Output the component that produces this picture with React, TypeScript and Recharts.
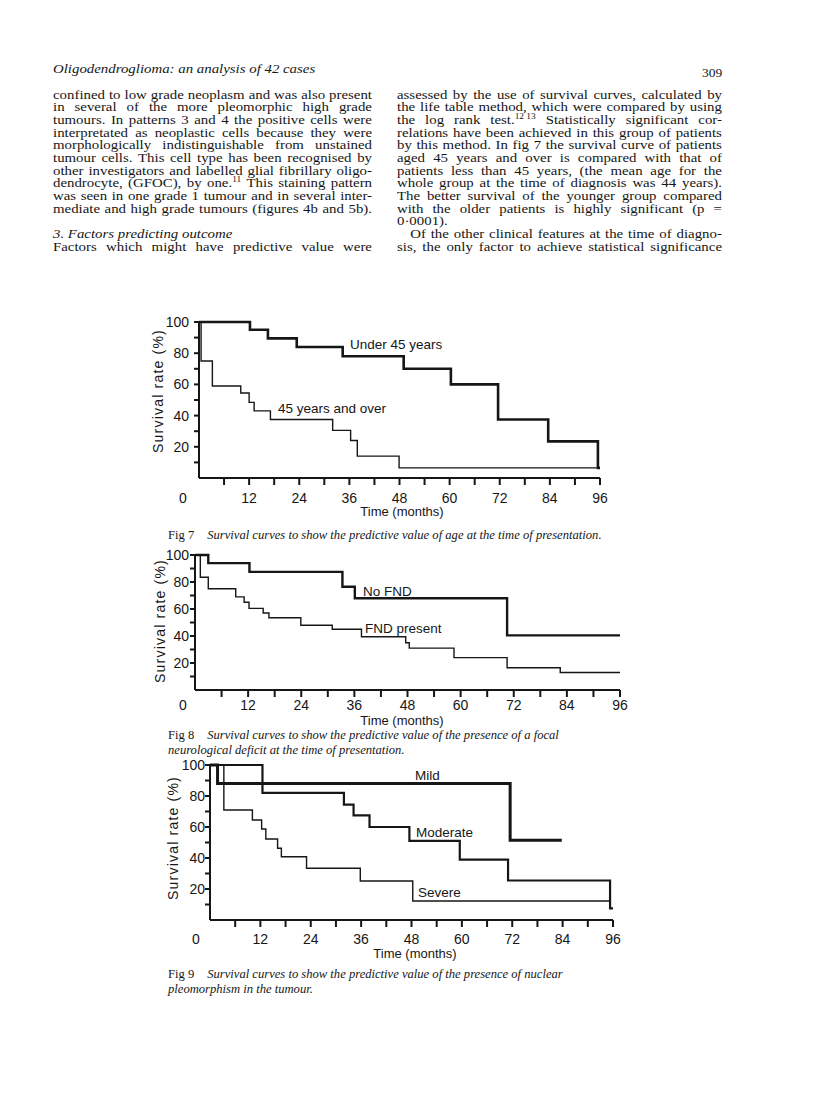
import React from "react";
import { LineChart, Line, XAxis, YAxis } from "recharts";

const ink = "#161616";
const chartFont = "'Liberation Sans', Arial, sans-serif";
const textFont = "'Liberation Serif', 'Times New Roman', serif";

// shared axis ticks
const monthTicks = [0, 6, 12, 18, 24, 30, 36, 42, 48, 54, 60, 66, 72, 78, 84, 90, 96];
const rateTicks = [10, 20, 30, 40, 50, 60, 70, 80, 90, 100];

// Fig 7 - age at presentation
const under45Months = [0, 12.2, 16.5, 23.4, 34.4, 49, 60.3, 71.6, 83.6, 95.5, 96];
const under45Rate = [100, 95, 89.5, 84, 78, 70, 60, 37.5, 23.5, 6.5, 6.5];
const over45Months = [0, 0.5, 3.2, 10, 12, 13.2, 17.1, 32, 36.3, 37.9, 47.9, 96];
const over45Rate = [100, 75, 59, 54.5, 48.5, 43, 37.5, 30.5, 24, 14, 6.5, 6.5];

// Fig 8 - focal neurological deficit
const noFndMonths = [0, 3, 12.3, 33.3, 36.1, 70.5, 96];
const noFndRate = [100, 94, 87.5, 76.5, 68, 40.5, 40.5];
const fndMonths = [0, 1.2, 3, 9.2, 11.1, 12.2, 15.4, 16.7, 23.9, 31, 37.6, 47.6, 48.4, 58.5, 70.5, 82.5, 96];
const fndRate = [100, 83.5, 75, 69, 65, 60.5, 57, 53.5, 48, 45, 39.5, 35, 31, 24, 16.5, 13, 13];

// Fig 9 - nuclear pleomorphism
const mildMonths = [0, 1.8, 71.5, 83.8];
const mildRate = [100, 88, 51.5, 51.5];
const moderateMonths = [0, 12.5, 31.9, 34.2, 38, 47.5, 59.5, 71, 95.3, 96];
const moderateRate = [100, 82, 74.5, 67.5, 60, 51, 39, 25.5, 7.5, 7.5];
const severeMonths = [0, 3.3, 10.1, 12.3, 13.3, 16.1, 17, 23, 35.8, 48.3, 95.5];
const severeRate = [100, 71, 64.5, 58.7, 52.3, 46.3, 40.8, 33.4, 25.2, 12.3, 12.3];

const toSeries = (months: number[], rate: number[]) => months.map((m, i) => ({ m, r: rate[i] }));

// body text, one entry per printed line
const leftLines = [
  "confined to low grade neoplasm and was also present",
  "in several of the more pleomorphic high grade",
  "tumours. In patterns 3 and 4 the positive cells were",
  "interpretated as neoplastic cells because they were",
  "morphologically indistinguishable from unstained",
  "tumour cells. This cell type has been recognised by",
  "other investigators and labelled glial fibrillary oligo-",
  "dendrocyte, (GFOC), by one.^{11} This staining pattern",
  "was seen in one grade 1 tumour and in several inter-",
  "mediate and high grade tumours (figures 4b and 5b).",
];
const rightLines = [
  "assessed by the use of survival curves, calculated by",
  "the life table method, which were compared by using",
  "the log rank test.^{12\u00a013} Statistically significant cor-",
  "relations have been achieved in this group of patients",
  "by this method. In fig 7 the survival curve of patients",
  "aged 45 years and over is compared with that of",
  "patients less than 45 years, (the mean age for the",
  "whole group at the time of diagnosis was 44 years).",
  "The better survival of the younger group compared",
  "with the older patients is highly significant (p =",
];

const LINE = 12.7;
const SX = 1.1; // the printed type is set wider than Liberation Serif

function renderWords(line: string) {
  return line.split(" ").map((w, i) => {
    const parts = w.split(/\^\{([^}]*)\}/);
    return (
      <span key={i}>
        {parts.map((p, j) =>
          j % 2 ? (
            <span key={j} style={{ fontSize: 8.5, position: "relative", top: -5 }}>
              {p}
            </span>
          ) : (
            p
          )
        )}
      </span>
    );
  });
}

function TextLine({ text, justify = true, indent = 0, italic = false }: { text: string; justify?: boolean; indent?: number; italic?: boolean }) {
  return (
    <div
      style={{
        height: LINE,
        lineHeight: LINE + "px",
        display: "flex",
        justifyContent: justify ? "space-between" : "flex-start",
        columnGap: justify ? 0 : "0.25em",
        paddingLeft: indent,
        fontStyle: italic ? "italic" : "normal",
        whiteSpace: "nowrap",
      }}
    >
      {renderWords(text)}
    </div>
  );
}

function MonthTick(props: any) {
  const { x, y, payload, zeroShift, drop } = props;
  const v = payload.value;
  return (
    <g>
      {v !== 0 && <line x1={x} x2={x} y1={y - 15} y2={y - 8} stroke={ink} strokeWidth={2} />}
      {v % 12 === 0 && (
        <text x={v === 0 ? x + zeroShift : x} y={y + drop} dy="0.71em" textAnchor="middle" fill={ink} fontSize={14} fontFamily={chartFont}>
          {v}
        </text>
      )}
    </g>
  );
}

type Geo = { x0: number; x96: number; y100: number; y0: number; yGap: number; zeroShift: number; drop: number };
type Curve = { months: number[]; rate: number[]; width: number };

function SurvivalChart({ geo, curves }: { geo: Geo; curves: Curve[] }) {
  const padL = 60, padT = 10, padR = 20, padB = 40;
  const w = geo.x96 - geo.x0 + padL + padR;
  const h = geo.y0 - geo.y100 + padT + padB;
  return (
    <div style={{ position: "absolute", left: geo.x0 - padL, top: geo.y100 - padT }}>
      <LineChart width={w} height={h} margin={{ top: padT, right: padR, bottom: padB - 30, left: padL - 40 }}>
        <XAxis
          type="number"
          dataKey="m"
          domain={[0, 96]}
          ticks={monthTicks}
          interval={0}
          height={30}
          axisLine={{ stroke: ink, strokeWidth: 2 }}
          tickLine={false}
          tickSize={15}
          tickMargin={0}
          tick={(p: any) => <MonthTick {...p} zeroShift={geo.zeroShift} drop={geo.drop} />}
        />
        <YAxis
          type="number"
          domain={[0, 100]}
          ticks={rateTicks}
          interval={0}
          width={40}
          axisLine={{ stroke: ink, strokeWidth: 2 }}
          tickLine={{ stroke: ink, strokeWidth: 2 }}
          tickSize={5}
          tickMargin={geo.yGap}
          tickFormatter={(v: number) => (v % 20 === 0 ? String(v) : "")}
          tick={{ fill: ink, fontSize: 14, fontFamily: chartFont }}
        />
        {curves.map((c, i) => (
          <Line
            key={i}
            data={toSeries(c.months, c.rate)}
            dataKey="r"
            type="stepAfter"
            stroke={ink}
            strokeWidth={c.width}
            dot={false}
            activeDot={false}
            isAnimationActive={false}
          />
        ))}
      </LineChart>
    </div>
  );
}

function ChartText({ x, cy, children, size = 13.5, center = false }: { x: number; cy: number; children: React.ReactNode; size?: number; center?: boolean }) {
  return (
    <div
      style={{
        position: "absolute",
        left: x,
        top: cy - 8,
        lineHeight: "16px",
        fontSize: size,
        fontFamily: chartFont,
        color: ink,
        whiteSpace: "nowrap",
        transform: center ? "translateX(-50%)" : undefined,
      }}
    >
      {children}
    </div>
  );
}

function YTitle({ cx, cy }: { cx: number; cy: number }) {
  return (
    <div
      style={{
        position: "absolute",
        left: cx,
        top: cy,
        transform: "translate(-50%, -50%) rotate(-90deg)",
        fontSize: 14,
        letterSpacing: 1.2,
        lineHeight: "16px",
        fontFamily: chartFont,
        color: ink,
        whiteSpace: "nowrap",
      }}
    >
      Survival rate (%)
    </div>
  );
}

function Caption({ top, fig, lines }: { top: number; fig: string; lines: string[] }) {
  return (
    <div style={{ position: "absolute", left: 168, top, fontSize: 12.6, lineHeight: "15px", fontFamily: textFont, color: ink, whiteSpace: "nowrap" }}>
      <div>
        {fig}
        <span style={{ display: "inline-block", width: 13 }} />
        <i>{lines[0]}</i>
      </div>
      {lines.slice(1).map((l, i) => (
        <div key={i}>
          <i>{l}</i>
        </div>
      ))}
    </div>
  );
}

function Column({ left, width, children }: { left: number; width: number; children: React.ReactNode }) {
  return (
    <div style={{ position: "absolute", left, top: 88.6, width: width / SX, transform: `scaleX(${SX})`, transformOrigin: "0 0" }}>
      {children}
    </div>
  );
}

export default function App() {
  return (
    <div style={{ position: "absolute", left: 0, top: 0, width: 816, height: 1110, background: "#fff", color: ink, fontFamily: textFont, fontSize: 13.5, overflow: "hidden" }}>
      <div style={{ position: "absolute", left: 53, top: 60.5, lineHeight: "16px", fontStyle: "italic", transform: `scaleX(${SX})`, transformOrigin: "0 0", whiteSpace: "nowrap" }}>
        Oligodendroglioma: an analysis of 42 cases
      </div>
      <div style={{ position: "absolute", left: 702, top: 65, lineHeight: "16px" }}>309</div>

      <Column left={53} width={319}>
        {leftLines.map((l, i) => (
          <TextLine key={i} text={l} />
        ))}
        <div style={{ height: LINE }} />
        <TextLine text="3. Factors predicting outcome" justify={false} italic />
        <TextLine text="Factors which might have predictive value were" />
      </Column>

      <Column left={397} width={325}>
        {rightLines.map((l, i) => (
          <TextLine key={i} text={l} />
        ))}
        <TextLine text="0·0001)." justify={false} />
        <TextLine text="Of the other clinical features at the time of diagno-" indent={12} />
        <TextLine text="sis, the only factor to achieve statistical significance" />
      </Column>

      {/* Fig 7 */}
      <SurvivalChart
        geo={{ x0: 199, x96: 600, y100: 322, y0: 478, yGap: 5, zeroShift: -16, drop: 0 }}
        curves={[
          { months: under45Months, rate: under45Rate, width: 2.6 },
          { months: over45Months, rate: over45Rate, width: 1.4 },
        ]}
      />
      <YTitle cx={158} cy={391} />
      <ChartText x={350} cy={345}>Under 45 years</ChartText>
      <ChartText x={278} cy={409}>45 years and over</ChartText>
      <ChartText x={402} cy={512} size={13} center>Time (months)</ChartText>
      <Caption top={528} fig="Fig 7" lines={["Survival curves to show the predictive value of age at the time of presentation."]} />

      {/* Fig 8 */}
      <SurvivalChart
        geo={{ x0: 195, x96: 620, y100: 555, y0: 690, yGap: 1, zeroShift: -12, drop: -5 }}
        curves={[
          { months: noFndMonths, rate: noFndRate, width: 2.4 },
          { months: fndMonths, rate: fndRate, width: 1.4 },
        ]}
      />
      <YTitle cx={160} cy={621} />
      <ChartText x={363} cy={592}>No FND</ChartText>
      <ChartText x={365} cy={629}>FND present</ChartText>
      <ChartText x={402} cy={721} size={13} center>Time (months)</ChartText>
      <Caption
        top={728}
        fig="Fig 8"
        lines={["Survival curves to show the predictive value of the presence of a focal", "neurological deficit at the time of presentation."]}
      />

      {/* Fig 9 */}
      <SurvivalChart
        geo={{ x0: 210, x96: 613, y100: 765, y0: 920, yGap: 0, zeroShift: -14, drop: -1 }}
        curves={[
          { months: mildMonths, rate: mildRate, width: 3 },
          { months: moderateMonths, rate: moderateRate, width: 2.2 },
          { months: severeMonths, rate: severeRate, width: 1.4 },
        ]}
      />
      <YTitle cx={173} cy={838} />
      <ChartText x={415} cy={776}>Mild</ChartText>
      <ChartText x={416} cy={833}>Moderate</ChartText>
      <ChartText x={418} cy={893}>Severe</ChartText>
      <ChartText x={415} cy={954} size={13} center>Time (months)</ChartText>
      <Caption
        top={967}
        fig="Fig 9"
        lines={["Survival curves to show the predictive value of the presence of nuclear", "pleomorphism in the tumour."]}
      />
    </div>
  );
}
